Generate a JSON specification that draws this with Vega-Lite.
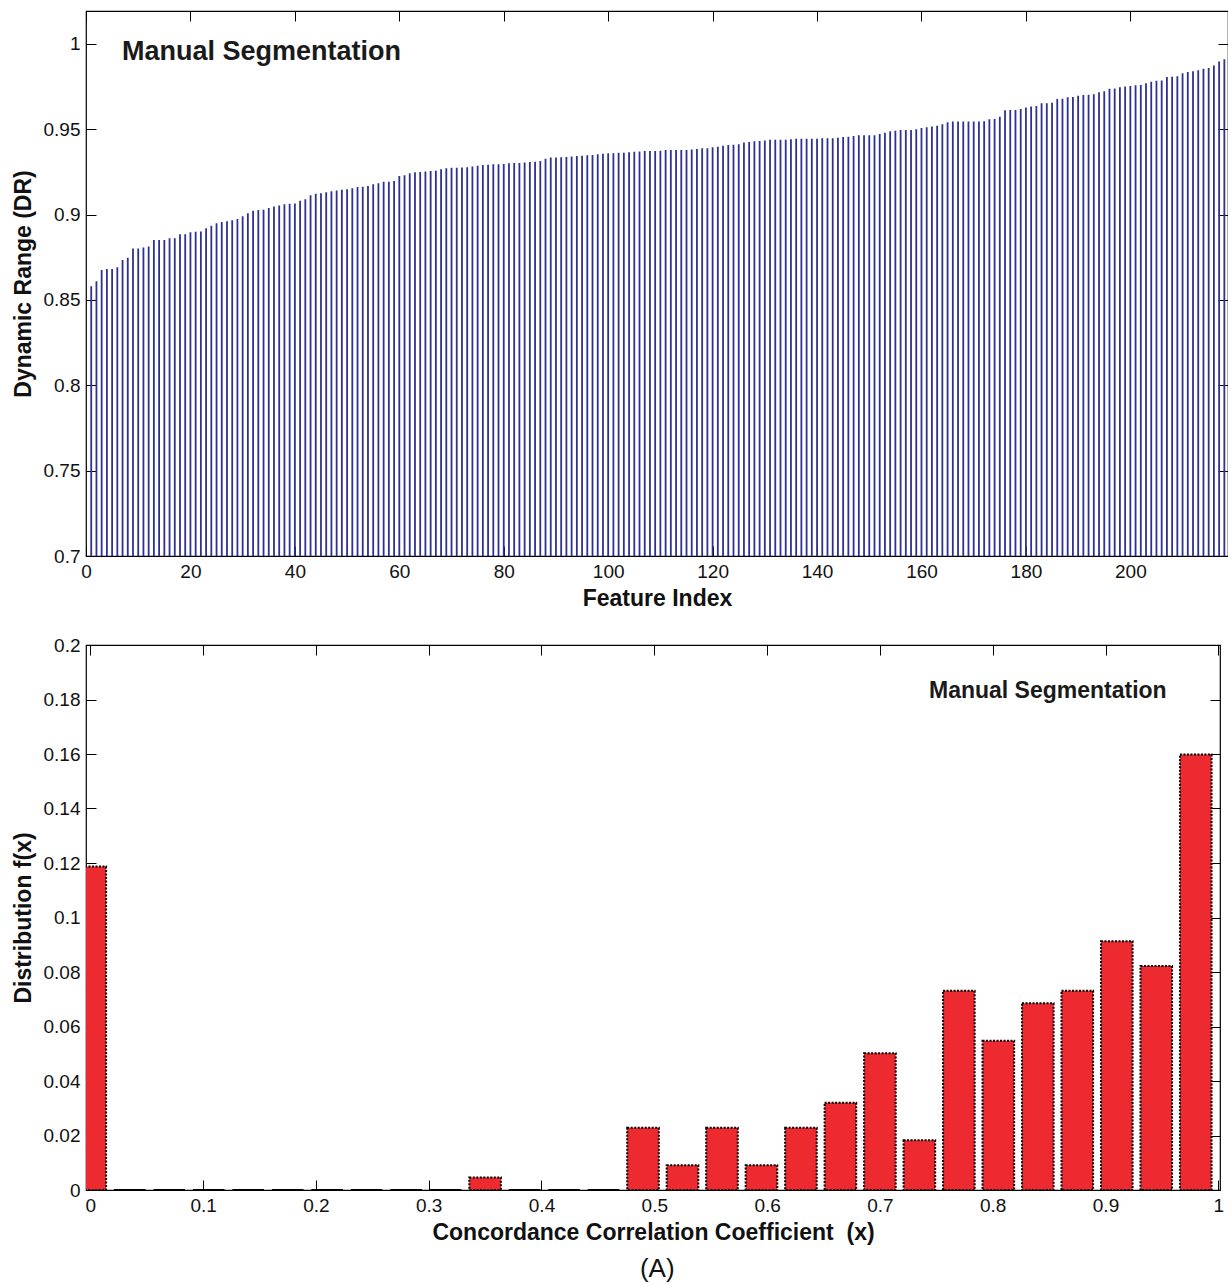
{
  "$schema": "https://vega.github.io/schema/vega-lite/v6.json",
  "background": "white",
  "padding": {"left": 11, "top": 9, "right": 0, "bottom": 0},
  "spacing": 24,
  "config": {
    "font": "Liberation Sans",
    "view": {"stroke": "#000", "strokeWidth": 1.2},
    "axis": {
      "domain": false, "grid": false, "tickSize": -10, "tickColor": "#000", "tickWidth": 1,
      "labelFont": "Liberation Sans", "labelFontSize": 19, "labelColor": "#111", "labelFlush": false, "labelOverlap": false,
      "titleFont": "Liberation Sans", "titleFontSize": 23, "titleFontWeight": "bold", "titleColor": "#111", "labelPadding": 16
    },
    "title": {"font": "Liberation Sans"}
  },
  "title": {"text": "(A)", "orient": "bottom", "anchor": "middle", "dx": 37, "fontSize": 26, "fontWeight": "normal", "color": "#111", "offset": 11},
  "datasets": {
    "dr": [
      {"i":1,"dr":0.858},{"i":2,"dr":0.861},{"i":3,"dr":0.8676},{"i":4,"dr":0.8682},{"i":5,"dr":0.8682},{"i":6,"dr":0.8692},{"i":7,"dr":0.8734},{"i":8,"dr":0.8748},{"i":9,"dr":0.8801},{"i":10,"dr":0.8801},
      {"i":11,"dr":0.8807},{"i":12,"dr":0.8813},{"i":13,"dr":0.8852},{"i":14,"dr":0.8852},{"i":15,"dr":0.8852},{"i":16,"dr":0.8862},{"i":17,"dr":0.8862},{"i":18,"dr":0.8885},{"i":19,"dr":0.8885},{"i":20,"dr":0.8897},
      {"i":21,"dr":0.8899},{"i":22,"dr":0.8901},{"i":23,"dr":0.892},{"i":24,"dr":0.8935},{"i":25,"dr":0.8949},{"i":26,"dr":0.8957},{"i":27,"dr":0.8961},{"i":28,"dr":0.8967},{"i":29,"dr":0.8975},{"i":30,"dr":0.899},
      {"i":31,"dr":0.9008},{"i":32,"dr":0.9022},{"i":33,"dr":0.9027},{"i":34,"dr":0.9029},{"i":35,"dr":0.9039},{"i":36,"dr":0.9047},{"i":37,"dr":0.9053},{"i":38,"dr":0.9061},{"i":39,"dr":0.9064},{"i":40,"dr":0.9065},
      {"i":41,"dr":0.9082},{"i":42,"dr":0.909},{"i":43,"dr":0.9113},{"i":44,"dr":0.9123},{"i":45,"dr":0.9125},{"i":46,"dr":0.9131},{"i":47,"dr":0.9137},{"i":48,"dr":0.9141},{"i":49,"dr":0.9146},{"i":50,"dr":0.9148},
      {"i":51,"dr":0.9154},{"i":52,"dr":0.9162},{"i":53,"dr":0.9164},{"i":54,"dr":0.9168},{"i":55,"dr":0.9178},{"i":56,"dr":0.9184},{"i":57,"dr":0.9193},{"i":58,"dr":0.9193},{"i":59,"dr":0.9197},{"i":60,"dr":0.9227},
      {"i":61,"dr":0.9231},{"i":62,"dr":0.9242},{"i":63,"dr":0.9248},{"i":64,"dr":0.925},{"i":65,"dr":0.9252},{"i":66,"dr":0.9256},{"i":67,"dr":0.9257},{"i":68,"dr":0.9266},{"i":69,"dr":0.9272},{"i":70,"dr":0.9274},
      {"i":71,"dr":0.9274},{"i":72,"dr":0.9276},{"i":73,"dr":0.9277},{"i":74,"dr":0.9282},{"i":75,"dr":0.9287},{"i":76,"dr":0.9291},{"i":77,"dr":0.9292},{"i":78,"dr":0.9295},{"i":79,"dr":0.9295},{"i":80,"dr":0.9296},
      {"i":81,"dr":0.9301},{"i":82,"dr":0.9302},{"i":83,"dr":0.9302},{"i":84,"dr":0.9305},{"i":85,"dr":0.9309},{"i":86,"dr":0.931},{"i":87,"dr":0.9314},{"i":88,"dr":0.9328},{"i":89,"dr":0.9334},{"i":90,"dr":0.9334},
      {"i":91,"dr":0.9336},{"i":92,"dr":0.9337},{"i":93,"dr":0.934},{"i":94,"dr":0.9344},{"i":95,"dr":0.9345},{"i":96,"dr":0.9348},{"i":97,"dr":0.935},{"i":98,"dr":0.9354},{"i":99,"dr":0.9356},{"i":100,"dr":0.936},
      {"i":101,"dr":0.936},{"i":102,"dr":0.9363},{"i":103,"dr":0.9363},{"i":104,"dr":0.9365},{"i":105,"dr":0.9369},{"i":106,"dr":0.937},{"i":107,"dr":0.9373},{"i":108,"dr":0.9373},{"i":109,"dr":0.9373},{"i":110,"dr":0.9374},
      {"i":111,"dr":0.9379},{"i":112,"dr":0.9379},{"i":113,"dr":0.9379},{"i":114,"dr":0.9379},{"i":115,"dr":0.9379},{"i":116,"dr":0.9381},{"i":117,"dr":0.9385},{"i":118,"dr":0.9389},{"i":119,"dr":0.9389},{"i":120,"dr":0.9395},
      {"i":121,"dr":0.9398},{"i":122,"dr":0.9404},{"i":123,"dr":0.9408},{"i":124,"dr":0.9409},{"i":125,"dr":0.9412},{"i":126,"dr":0.9422},{"i":127,"dr":0.9426},{"i":128,"dr":0.943},{"i":129,"dr":0.9431},{"i":130,"dr":0.9434},
      {"i":131,"dr":0.9438},{"i":132,"dr":0.9438},{"i":133,"dr":0.9438},{"i":134,"dr":0.9438},{"i":135,"dr":0.9442},{"i":136,"dr":0.9444},{"i":137,"dr":0.9444},{"i":138,"dr":0.9444},{"i":139,"dr":0.9444},{"i":140,"dr":0.9444},
      {"i":141,"dr":0.9447},{"i":142,"dr":0.9447},{"i":143,"dr":0.9447},{"i":144,"dr":0.9451},{"i":145,"dr":0.9455},{"i":146,"dr":0.9456},{"i":147,"dr":0.9461},{"i":148,"dr":0.9465},{"i":149,"dr":0.9465},{"i":150,"dr":0.9465},
      {"i":151,"dr":0.9465},{"i":152,"dr":0.9473},{"i":153,"dr":0.948},{"i":154,"dr":0.9488},{"i":155,"dr":0.9492},{"i":156,"dr":0.9496},{"i":157,"dr":0.9496},{"i":158,"dr":0.9496},{"i":159,"dr":0.95},{"i":160,"dr":0.9508},
      {"i":161,"dr":0.9512},{"i":162,"dr":0.9516},{"i":163,"dr":0.9521},{"i":164,"dr":0.953},{"i":165,"dr":0.9541},{"i":166,"dr":0.9545},{"i":167,"dr":0.9545},{"i":168,"dr":0.9545},{"i":169,"dr":0.9545},{"i":170,"dr":0.9546},
      {"i":171,"dr":0.9546},{"i":172,"dr":0.9547},{"i":173,"dr":0.9559},{"i":174,"dr":0.956},{"i":175,"dr":0.9574},{"i":176,"dr":0.9611},{"i":177,"dr":0.9613},{"i":178,"dr":0.9613},{"i":179,"dr":0.9619},{"i":180,"dr":0.9627},
      {"i":181,"dr":0.9633},{"i":182,"dr":0.9637},{"i":183,"dr":0.9652},{"i":184,"dr":0.9653},{"i":185,"dr":0.9656},{"i":186,"dr":0.9678},{"i":187,"dr":0.9679},{"i":188,"dr":0.9688},{"i":189,"dr":0.9689},{"i":190,"dr":0.9697},
      {"i":191,"dr":0.9701},{"i":192,"dr":0.9702},{"i":193,"dr":0.9705},{"i":194,"dr":0.9717},{"i":195,"dr":0.9723},{"i":196,"dr":0.9738},{"i":197,"dr":0.9739},{"i":198,"dr":0.9746},{"i":199,"dr":0.975},{"i":200,"dr":0.9754},
      {"i":201,"dr":0.9758},{"i":202,"dr":0.9759},{"i":203,"dr":0.977},{"i":204,"dr":0.9779},{"i":205,"dr":0.9785},{"i":206,"dr":0.9786},{"i":207,"dr":0.9807},{"i":208,"dr":0.9808},{"i":209,"dr":0.9811},{"i":210,"dr":0.9828},
      {"i":211,"dr":0.9836},{"i":212,"dr":0.984},{"i":213,"dr":0.9846},{"i":214,"dr":0.9854},{"i":215,"dr":0.9859},{"i":216,"dr":0.9873},{"i":217,"dr":0.9897},{"i":218,"dr":0.991}
    ],
    "ccc": [
      {"c":0,"f":0.1187},{"c":0.035,"f":0},{"c":0.07,"f":0},{"c":0.105,"f":0},{"c":0.14,"f":0},{"c":0.175,"f":0},{"c":0.21,"f":0},{"c":0.245,"f":0},{"c":0.28,"f":0},{"c":0.315,"f":0},
      {"c":0.35,"f":0.0046},{"c":0.385,"f":0},{"c":0.42,"f":0},{"c":0.455,"f":0},{"c":0.49,"f":0.0228},{"c":0.525,"f":0.0091},{"c":0.56,"f":0.0228},{"c":0.595,"f":0.0091},{"c":0.63,"f":0.0228},{"c":0.665,"f":0.032},
      {"c":0.7,"f":0.0502},{"c":0.735,"f":0.0183},{"c":0.77,"f":0.0731},{"c":0.805,"f":0.0548},{"c":0.84,"f":0.0685},{"c":0.875,"f":0.0731},{"c":0.91,"f":0.0913},{"c":0.945,"f":0.0822},{"c":0.98,"f":0.1598}
    ],
    "lab1": [{"label": "Manual Segmentation", "x": 6.9, "y": 0.9953}],
    "lab2": [{"label": "Manual Segmentation", "x": 0.7435, "y": 0.1831}]
  },
  "vconcat": [
    {
      "width": 1142, "height": 545,
      "layer": [
        {
          "data": {"name": "dr"},
          "mark": {"type": "rule", "strokeWidth": 1.8, "color": "#2e3192"},
          "encoding": {
            "x": {"field": "i", "type": "quantitative", "scale": {"domain": [0, 218.7], "nice": false, "zero": false},
                  "axis": {"orient": "bottom", "values": [0,20,40,60,80,100,120,140,160,180,200], "title": "Feature Index", "titlePadding": 6}},
            "y": {"field": "dr", "type": "quantitative", "scale": {"domain": [0.7, 1.0193], "nice": false, "zero": false},
                  "axis": {"orient": "left", "values": [0.7,0.75,0.8,0.85,0.9,0.95,1], "format": "~g", "title": "Dynamic Range (DR)", "minExtent": 50, "maxExtent": 50, "titlePadding": 1}},
            "y2": {"datum": 0.7}
          }
        },
        {
          "data": {"name": "dr"},
          "mark": {"type": "rule", "opacity": 0},
          "encoding": {
            "x": {"field": "i", "type": "quantitative", "axis": {"orient": "top", "values": [0,20,40,60,80,100,120,140,160,180,200], "labels": false, "title": null}},
            "y": {"field": "dr", "type": "quantitative", "axis": {"orient": "right", "values": [0.7,0.75,0.8,0.85,0.9,0.95,1], "labels": false, "title": null}}
          }
        },
        {
          "data": {"name": "lab1"},
          "mark": {"type": "text", "align": "left", "baseline": "middle", "fontSize": 27, "fontWeight": "bold", "font": "Liberation Sans", "color": "#1a1a1a"},
          "encoding": {
            "x": {"field": "x", "type": "quantitative", "axis": null},
            "y": {"field": "y", "type": "quantitative", "axis": null},
            "text": {"field": "label"}
          }
        }
      ],
      "resolve": {"axis": {"x": "independent", "y": "independent"}}
    },
    {
      "width": 1134, "height": 545,
      "layer": [
        {
          "data": {"name": "ccc"},
          "mark": {"type": "bar", "width": 31.6, "color": "#ed2a30", "stroke": "#000", "strokeWidth": 2, "strokeDash": [2, 1.5], "clip": true},
          "encoding": {
            "x": {"field": "c", "type": "quantitative", "scale": {"domain": [-0.0038, 1.0015], "nice": false, "zero": false, "padding": 0},
                  "axis": {"orient": "bottom", "values": [0,0.1,0.2,0.3,0.4,0.5,0.6,0.7,0.8,0.9,1], "format": "~g", "title": "Concordance Correlation Coefficient \u00a0(x)", "titlePadding": 6}},
            "y": {"field": "f", "type": "quantitative", "scale": {"domain": [0, 0.2], "nice": false},
                  "axis": {"orient": "left", "values": [0,0.02,0.04,0.06,0.08,0.1,0.12,0.14,0.16,0.18,0.2], "format": "~g", "title": "Distribution f(x)", "minExtent": 50, "maxExtent": 50, "titlePadding": 1}}
          }
        },
        {
          "data": {"name": "ccc"},
          "mark": {"type": "point", "opacity": 0},
          "encoding": {
            "x": {"field": "c", "type": "quantitative", "axis": {"orient": "top", "values": [0,0.1,0.2,0.3,0.4,0.5,0.6,0.7,0.8,0.9,1], "labels": false, "title": null}},
            "y": {"field": "f", "type": "quantitative", "axis": {"orient": "right", "values": [0,0.02,0.04,0.06,0.08,0.1,0.12,0.14,0.16,0.18,0.2], "labels": false, "title": null}}
          }
        },
        {
          "data": {"name": "lab2"},
          "mark": {"type": "text", "align": "left", "baseline": "middle", "fontSize": 23, "fontWeight": "bold", "font": "Liberation Sans", "color": "#1a1a1a"},
          "encoding": {
            "x": {"field": "x", "type": "quantitative", "axis": null},
            "y": {"field": "y", "type": "quantitative", "axis": null},
            "text": {"field": "label"}
          }
        }
      ],
      "resolve": {"axis": {"x": "independent", "y": "independent"}}
    }
  ]
}
